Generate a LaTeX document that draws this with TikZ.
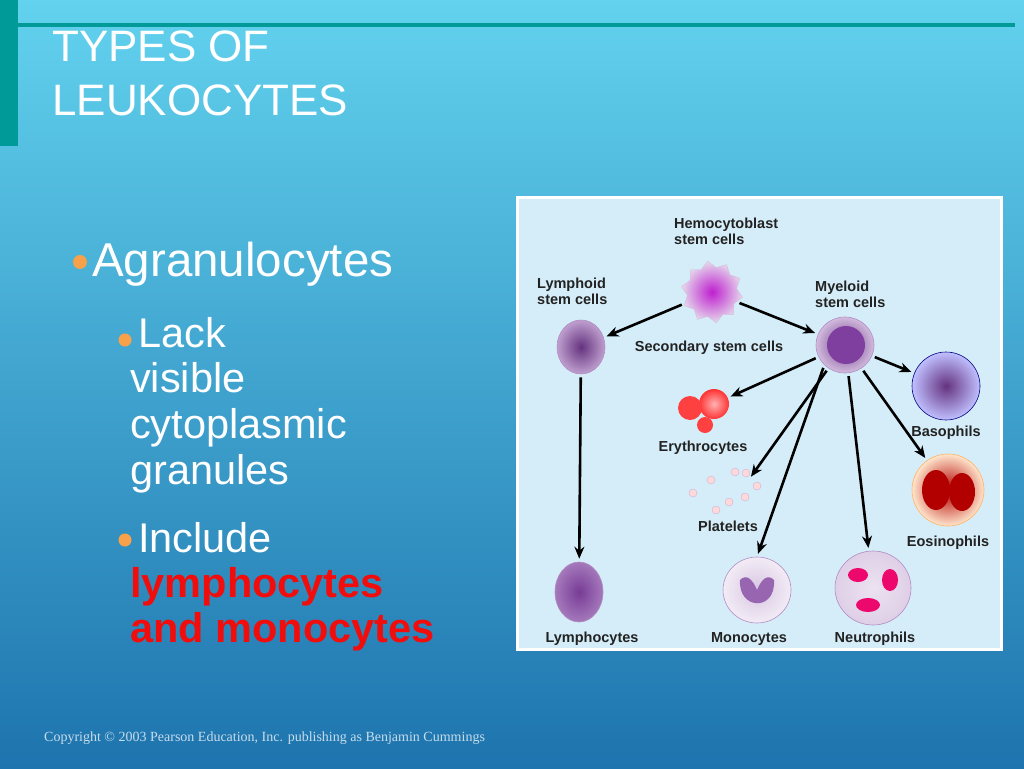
\documentclass[tikz,border=0pt]{standalone}
\usepackage{fontspec}
\setmainfont{Liberation Sans}
\newfontfamily\timesf{Liberation Serif}
\usetikzlibrary{shapes.geometric,arrows.meta}
\definecolor{bgtop}{HTML}{62D2EE}
\definecolor{bgbot}{HTML}{1E74AE}
\definecolor{teal}{HTML}{009A98}
\definecolor{panel}{HTML}{D5EDF8}
\definecolor{bul}{HTML}{F7A24A}
\definecolor{redtxt}{HTML}{F20D0D}
\definecolor{lbl}{HTML}{222222}
\definecolor{cellp}{HTML}{7E3F9E}
\tikzset{
 lab/.style={font=\fontsize{14.5}{15.5}\selectfont\bfseries, text=lbl, align=left, inner sep=0pt},
 arr/.style={-{Stealth[length=12pt,width=10pt]}, line width=2.6pt, shorten >=3pt, shorten <=3pt},
 cell/.style={ellipse, draw=cellp!60, line width=0.6pt, inner sep=0pt},
 bt/.style={text=white, anchor=base west, inner sep=0pt},
}
\begin{document}
\begin{tikzpicture}[x=1pt,y=-1pt]
\useasboundingbox (0,0) rectangle (1024,768);
\shade[top color=bgtop, bottom color=bgbot] (0,0) rectangle (1024,768);
\fill[teal] (0,0) rectangle (18,146);
\fill[teal] (18,23) rectangle (1015,27);
\node[bt, font=\fontsize{44}{46}\selectfont] (t1) at (52,62) {TYPES OF};
\node[bt, font=\fontsize{44}{46}\selectfont] (t2) at (52,115) {LEUKOCYTES};
\fill[bul] (80,262) circle (7);
\node[bt, font=\fontsize{47.5}{48}\selectfont] (a1) at (92,276) {Agranulocytes};
\fill[bul] (125,340) circle (6.5);
\node[bt, font=\fontsize{41.5}{42}\selectfont] (b1) at (138,347) {Lack};
\node[bt, font=\fontsize{41.5}{42}\selectfont] (b2) at (130,392) {visible};
\node[bt, font=\fontsize{41.5}{42}\selectfont] (b3) at (130,438) {cytoplasmic};
\node[bt, font=\fontsize{41.5}{42}\selectfont] (b4) at (130,484) {granules};
\fill[bul] (125,540) circle (6.5);
\node[bt, font=\fontsize{41.5}{42}\selectfont] (c1) at (138,552) {Include};
\node[bt, text=redtxt, font=\fontsize{41.5}{42}\selectfont\bfseries] (c2) at (130,597) {lymphocytes};
\node[bt, text=redtxt, font=\fontsize{41.5}{42}\selectfont\bfseries] (c3) at (130,642) {and monocytes};
\node[anchor=base west, inner sep=0pt, text=white!75!bgbot, font=\timesf\fontsize{14}{15}\selectfont] (cp) at (44,741) {Copyright \textcopyright{} 2003 Pearson Education, Inc. publishing as Benjamin Cummings};
% panel
\fill[white] (516,196) rectangle (1003,651);
\fill[panel] (519,199) rectangle (1000,648);
% labels
\node[lab, anchor=north west] (lh) at (674,218) {Hemocytoblast\\stem cells};
\node[lab, anchor=north west] (ll) at (537,278) {Lymphoid\\stem cells};
\node[lab, anchor=north west] (lm) at (815,281) {Myeloid\\stem cells};
\node[lab] (ls) at (709,348) {Secondary stem cells};
\node[lab] (lb) at (946,433) {Basophils};
\node[lab] (le) at (703,448) {Erythrocytes};
\node[lab] (lp) at (728,526) {Platelets};
\node[lab] (leo) at (948,543) {Eosinophils};
\node[lab] (lly) at (592,639) {Lymphocytes};
\node[lab] (lmo) at (749,639) {Monocytes};
\node[lab] (lne) at (875,639) {Neutrophils};
% cells
\node[star, star points=10, star point ratio=1.25, minimum size=62pt, draw=cellp!35, inner color=magenta!50!cellp, outer color=cellp!20!white, rotate=8] (hemo) at (712,292) {};
\node[cell, minimum width=48pt, minimum height=54pt, inner color=cellp!80!black, outer color=cellp!50] (lymph) at (581,347) {};
\node[cell, minimum width=58pt, minimum height=56pt, inner color=cellp!90!black, outer color=cellp!35] (myel) at (845,345) {};
\fill[cellp] (846,345) circle (19);
\node[cell, minimum width=68pt, minimum height=68pt, draw=blue!50!black, inner color=cellp!80!black, outer color=blue!25] (baso) at (946,386) {};
\node[cell, minimum width=72pt, minimum height=72pt, draw=orange!60, inner color=red!70!black, outer color=orange!20] (eos) at (948,490) {};
\fill[red!70!black] (936,490) ellipse (14 and 20);
\fill[red!70!black] (962,492) ellipse (13 and 19);
\node[cell, minimum width=48pt, minimum height=60pt, inner color=cellp!95!black, outer color=cellp!70] (lymc) at (579,592) {};
\node[cell, minimum width=68pt, minimum height=66pt, inner color=cellp!30, outer color=cellp!10] (mono) at (757,590) {};
\fill[cellp!80] (740,580) .. controls (738,610) and (776,612) .. (774,580) .. controls (768,574) and (762,578) .. (757,590) .. controls (752,578) and (746,574) .. (740,580) -- cycle;
\node[cell, minimum width=76pt, minimum height=74pt, inner color=cellp!15, outer color=cellp!25] (neut) at (873,588) {};
\fill[magenta!70!red] (858,575) ellipse (10 and 7);
\fill[magenta!70!red] (890,580) ellipse (8 and 11);
\fill[magenta!70!red] (868,605) ellipse (12 and 7);
\node[circle, minimum size=30pt, inner color=red!30, outer color=red!80, inner sep=0pt] (ery) at (714,404) {};
\fill[red!75] (690,408) circle (12);
\fill[red!75] (705,425) circle (8);
\node[circle, minimum size=14pt, inner sep=0pt] (plat) at (745,485) {};
\foreach \p in {(693,493),(711,480),(735,472),(729,502),(745,497),(757,486),(746,473),(716,510)}
  \fill[pink!60, draw=cellp!40] \p circle (4);
% arrows
\draw[arr] (hemo) -- (lymph);
\draw[arr] (hemo) -- (myel);
\draw[arr] (lymph) -- (lymc);
\draw[arr] (myel) -- (ery);
\draw[arr] (myel) -- (plat);
\draw[arr] (myel.south west) -- (mono.north);
\draw[arr] (myel) -- (neut);
\draw[arr] (myel) -- (eos);
\draw[arr] (myel) -- (baso);
\end{tikzpicture}
\end{document}
